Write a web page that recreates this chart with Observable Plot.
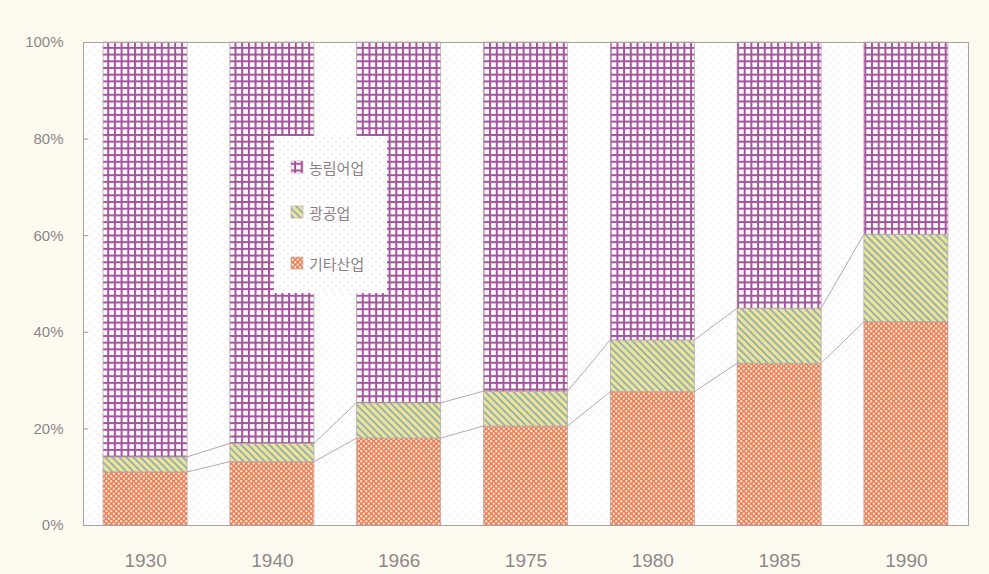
<!DOCTYPE html>
<html><head><meta charset="utf-8">
<script src="https://cdn.jsdelivr.net/npm/d3@7"></script>
<script src="https://cdn.jsdelivr.net/npm/@observablehq/plot@0.6"></script>
<style>
html,body{margin:0;padding:0;background:#fcfaee;}
#wrap{position:relative;width:989px;height:574px;overflow:hidden;}
</style></head><body><div id="wrap"></div>
<script>
const years = ["1930", "1940", "1966", "1975", "1980", "1985", "1990"];
const seriesNames = ["기타산업", "광공업", "농림어업"];
const otherValues  = [11.0, 13.1, 18.0, 20.5, 27.6, 33.5, 42.1];
const miningValues = [3.1, 3.8, 7.3, 7.2, 10.7, 11.4, 18.1];
const agriValues   = [85.9, 83.1, 74.7, 72.3, 61.7, 55.1, 39.8];
const yTicks = [0, 20, 40, 60, 80, 100];
const legendOrder = ["농림어업", "광공업", "기타산업"];

const patternIds = {"기타산업": "pOther", "광공업": "pMining", "농림어업": "pAgri"};

const rows = [];
years.forEach((yr, i) => {
  rows.push({year: yr, series: seriesNames[0], value: otherValues[i]});
  rows.push({year: yr, series: seriesNames[1], value: miningValues[i]});
  rows.push({year: yr, series: seriesNames[2], value: agriValues[i]});
});
const links = [];
for (let i = 0; i < years.length - 1; i++) {
  links.push({a: years[i], b: years[i + 1], v1: otherValues[i], v2: otherValues[i + 1]});
  links.push({a: years[i], b: years[i + 1], v1: otherValues[i] + miningValues[i], v2: otherValues[i + 1] + miningValues[i + 1]});
}

const textColor = "#8f878a";

const plot = Plot.plot({
  width: 989, height: 574,
  marginLeft: 83, marginRight: 21, marginTop: 42, marginBottom: 49,
  style: {background: "transparent", fontFamily: "'Liberation Sans', Arial, sans-serif", color: textColor},
  x: {type: "band", domain: years, paddingInner: 0.337, paddingOuter: 0.158, round: false, label: null},
  y: {domain: [0, 100], label: null},
  color: {domain: seriesNames, range: seriesNames.map(s => `url(#${patternIds[s]})`)},
  marks: [
    Plot.frame({fill: "#ffffff"}),
    Plot.frame({fill: "url(#pDots)"}),
    Plot.link(links, {
      x1: "a", x2: "b", y1: "v1", y2: "v2",
      render(index, scales) {
        const x = scales.x, y = scales.y;
        const bw = x.bandwidth();
        const g = d3.create("svg:g").attr("stroke", "#bba5b5").attr("stroke-width", 1).attr("fill", "none");
        for (const i of index) {
          const d = links[i];
          g.append("line")
            .attr("x1", x(d.a) + bw).attr("y1", y(d.v1))
            .attr("x2", x(d.b)).attr("y2", y(d.v2));
        }
        return g.node();
      }
    }),
    Plot.barY(rows, {x: "year", y: "value", fill: "series", stroke: "#b3a6a8", strokeWidth: 0.7}),
    Plot.axisY(yTicks, {tickSize: 0, tickPadding: 20, tickFormat: d => d + "%", fontSize: 15, fill: textColor}),
    Plot.axisY(yTicks, {tickSize: 5, dx: 5, tickFormat: () => "", stroke: "#9a9090"}),
    Plot.axisX({tickSize: 0, tickPadding: 28, fontSize: 19, fill: textColor}),
    Plot.frame({stroke: "#aaa0a2"})
  ]
});

// pattern definitions
const svg = d3.select(plot);
const defs = svg.insert("defs", ":first-child");
function pat(id, w, h, transform) {
  const p = defs.append("pattern").attr("id", id).attr("patternUnits", "userSpaceOnUse")
    .attr("width", w).attr("height", h);
  if (transform) p.attr("patternTransform", transform);
  return p;
}
{
  const p = pat("pDots", 8, 8);
  p.append("circle").attr("cx", 2).attr("cy", 2).attr("r", 0.6).attr("fill", "#bfb0ba");
  p.append("circle").attr("cx", 6).attr("cy", 6).attr("r", 0.6).attr("fill", "#bfb0ba");
}
{
  const p = pat("pAgri", 6.7, 6.7);
  p.append("rect").attr("width", 6.7).attr("height", 6.7).attr("fill", "#a2549c");
  p.append("rect").attr("x", 2).attr("y", 2).attr("width", 4.7).attr("height", 4.7).attr("fill", "#fdfafc");
}
{
  const p = pat("pMining", 5, 5, "rotate(-45)");
  p.append("rect").attr("width", 5).attr("height", 5).attr("fill", "#f4efcc");
  p.append("rect").attr("x", 0).attr("width", 2).attr("height", 5).attr("fill", "#98b0b0");
  p.append("rect").attr("x", 2.5).attr("width", 2).attr("height", 5).attr("fill", "#ece27a");
}
{
  const p = pat("pOther", 5, 5);
  p.append("rect").attr("width", 5).attr("height", 5).attr("fill", "#f07c64");
  p.append("circle").attr("cx", 1.25).attr("cy", 1.25).attr("r", 1.15).attr("fill", "#fff2bf");
  p.append("circle").attr("cx", 3.75).attr("cy", 3.75).attr("r", 1.15).attr("fill", "#fff2bf");
}

const wrap = document.getElementById("wrap");
wrap.appendChild(plot);

// legend
const lw = 113, lh = 157;
const leg = d3.create("svg").attr("width", lw).attr("height", lh)
  .style("position", "absolute").style("left", "274px").style("top", "136px");
leg.append("rect").attr("width", lw).attr("height", lh).attr("fill", "#fff");
leg.append("rect").attr("width", lw).attr("height", lh).attr("fill", "url(#pDots)");
const legY = [31, 76, 127];
legendOrder.forEach((s, i) => {
  leg.append("rect").attr("x", 17).attr("y", legY[i] - 6).attr("width", 12).attr("height", 12)
    .attr("fill", `url(#${patternIds[s]})`).attr("stroke", "#b3a6a8").attr("stroke-width", 0.6);
  leg.append("text").attr("x", 35).attr("y", legY[i]).attr("dominant-baseline", "central")
    .attr("font-family", "'Noto Sans CJK KR', sans-serif").attr("font-size", 15)
    .attr("fill", "#8d7f88").text(s);
});
wrap.appendChild(leg.node());
</script>
</body></html>
